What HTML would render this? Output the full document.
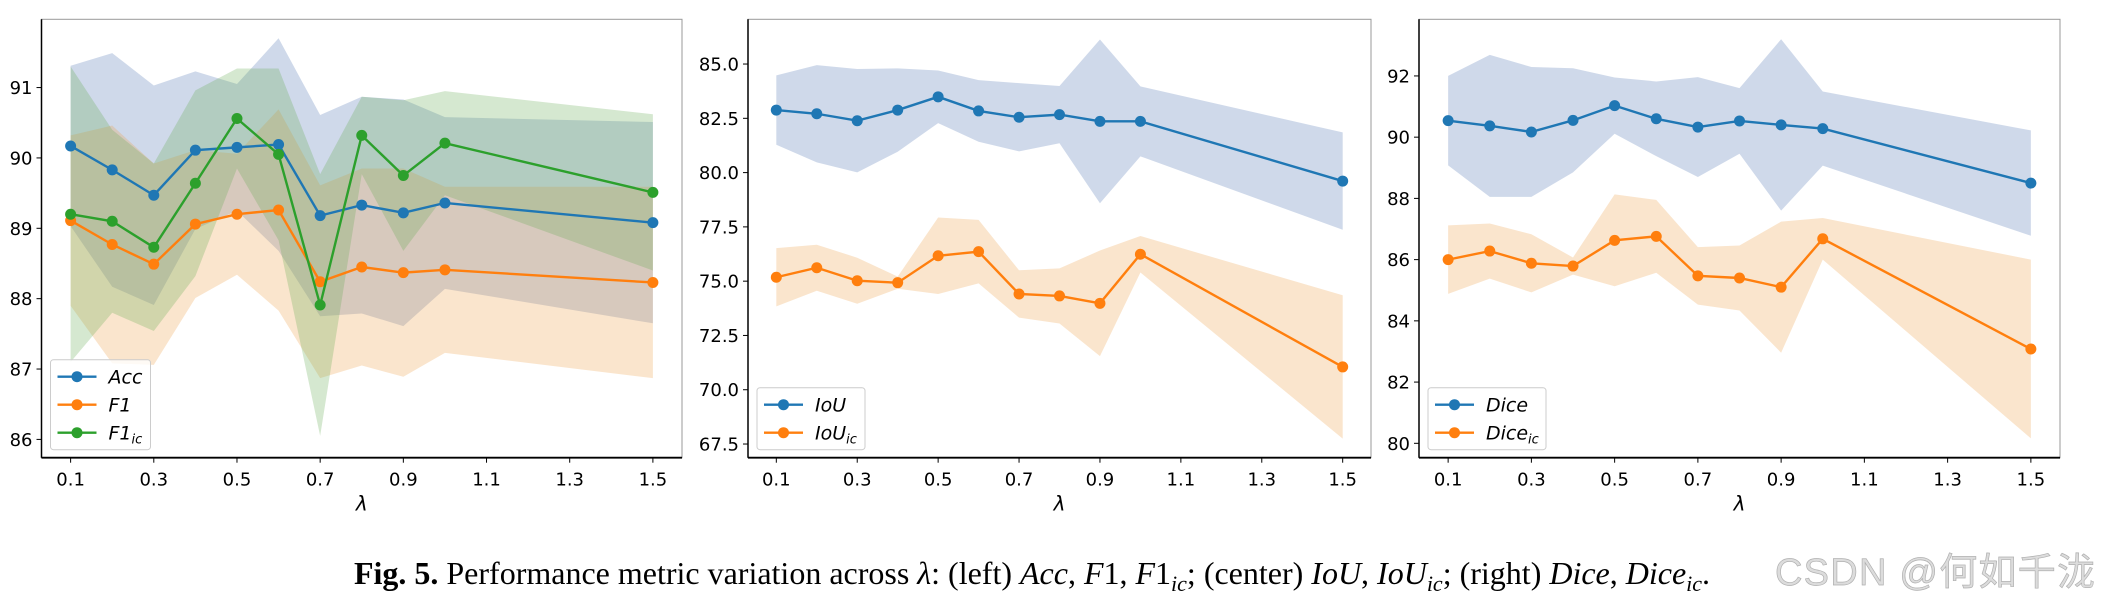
<!DOCTYPE html>
<html><head><meta charset="utf-8">
<style>
html,body{margin:0;padding:0;background:#fff;}
svg{display:block;}
text{font-family:"DejaVu Sans","Liberation Sans",sans-serif;}
</style></head>
<body>
<svg id="fig" width="2101" height="608" viewBox="0 0 2101 608" xmlns="http://www.w3.org/2000/svg">
<text x="1032" y="584" font-size="32" text-anchor="middle" fill="#000" style="font-family:'Liberation Serif',serif"><tspan font-weight="bold">Fig. 5.</tspan> Performance metric variation across <tspan font-style="italic">λ</tspan>: (left) <tspan font-style="italic">Acc</tspan>, <tspan font-style="italic">F</tspan>1, <tspan font-style="italic">F</tspan>1<tspan font-style="italic" font-size="22" dy="7">ic</tspan><tspan dy="-7">; (center) </tspan><tspan font-style="italic">IoU</tspan>, <tspan font-style="italic">IoU</tspan><tspan font-style="italic" font-size="22" dy="7">ic</tspan><tspan dy="-7">; (right) </tspan><tspan font-style="italic">Dice</tspan>, <tspan font-style="italic">Dice</tspan><tspan font-style="italic" font-size="22" dy="7">ic</tspan><tspan dy="-7">.</tspan></text>
<text x="1775" y="585" font-size="38" fill="#dcdcdc" stroke="#b0b0b0" stroke-width="0.7" textLength="320" style="font-family:'Liberation Sans','Noto Sans CJK SC',sans-serif">CSDN @何如千泷</text>
</svg>
<script>
const lambdas = [0.1,0.2,0.3,0.4,0.5,0.6,0.7,0.8,0.9,1.0,1.5];
const xTicks = [0.1,0.3,0.5,0.7,0.9,1.1,1.3,1.5];

const accMean = [90.17,89.83,89.47,90.11,90.15,90.19,89.18,89.33,89.22,89.36,89.08];
const accStd  = [1.14,1.66,1.56,1.12,0.90,1.51,1.43,1.54,1.61,1.22,1.43];
const f1Mean  = [89.11,88.77,88.49,89.06,89.20,89.26,88.24,88.45,88.37,88.41,88.23];
const f1Std   = [1.21,1.69,1.43,1.05,0.86,1.43,1.37,1.40,1.48,1.18,1.36];
const f1icMean= [89.20,89.10,88.73,89.64,90.56,90.05,87.91,90.32,89.75,90.21,89.51];
const f1icStd = [2.10,1.30,1.19,1.32,0.71,1.22,1.86,0.55,1.07,0.74,1.11];
const leftTicks = [86,87,88,89,90,91];

const iouMean  = [82.88,82.71,82.39,82.88,83.49,82.84,82.55,82.67,82.36,82.36,79.61];
const iouStd   = [1.60,2.24,2.38,1.92,1.21,1.42,1.57,1.32,3.77,1.61,2.24];
const iouicMean= [75.18,75.62,75.02,74.93,76.17,76.36,74.41,74.32,73.98,76.24,71.05];
const iouicStd = [1.34,1.06,1.06,0.28,1.76,1.46,1.09,1.27,2.43,0.84,3.30];
const centerTicks = [67.5,70.0,72.5,75.0,77.5,80.0,82.5,85.0];

const diceMean  = [90.54,90.37,90.17,90.55,91.03,90.60,90.33,90.53,90.40,90.28,88.50];
const diceStd   = [1.46,2.32,2.12,1.70,0.92,1.22,1.63,1.07,2.80,1.21,1.72];
const diceicMean= [86.00,86.28,85.88,85.79,86.63,86.76,85.47,85.40,85.10,86.68,83.08];
const diceicStd = [1.12,0.90,0.95,0.28,1.50,1.19,0.94,1.06,2.14,0.68,2.92];
const rightTicks = [80,82,84,86,88,90,92];

const NS = 'http://www.w3.org/2000/svg';
const svg = document.getElementById('fig');
function mk(tag, attrs, parent){
  const e = document.createElementNS(NS, tag);
  for (const k in attrs) e.setAttribute(k, attrs[k]);
  (parent||svg).appendChild(e);
  return e;
}
const C = {blue:'#1f77b4', orange:'#ff7f0e', green:'#2ca02c'};
const FILL = {blue:'rgba(76,114,176,0.27)', orange:'rgba(236,160,70,0.27)', green:'rgba(100,170,80,0.27)'};

function panel(p){
  const g = mk('g', {});
  
  
  const X = v => p.x0 + (v - 0.03) / 1.54 * (p.x1 - p.x0);
  const Y = v => p.y0 + (p.ymax - v) / (p.ymax - p.ymin) * (p.y1 - p.y0);
  p.series.forEach(s => {
    let d = '';
    lambdas.forEach((l,i) => { d += (i?'L':'M') + X(l) + ' ' + Y(s.mean[i] + s.std[i]); });
    for (let i = lambdas.length-1; i >= 0; i--) d += 'L' + X(lambdas[i]) + ' ' + Y(s.mean[i] - s.std[i]);
    const band = mk('path', {d: d + 'Z', fill: FILL[s.color], stroke: 'none'}, g);
    
    
  });
  p.series.forEach(s => {
    const pts = lambdas.map((l,i) => X(l) + ',' + Y(s.mean[i])).join(' ');
    const line = mk('polyline', {points: pts, fill: 'none', stroke: C[s.color], 'stroke-width': 2.4}, g);
    
    
    lambdas.forEach((l,i) => {
      const c = mk('circle', {cx: X(l), cy: Y(s.mean[i]), r: 5.5, fill: C[s.color]}, g);
      
      
    });
  });
  const fr = mk('rect', {x: p.x0, y: p.y0, width: p.x1 - p.x0, height: p.y1 - p.y0, fill: 'none', stroke: '#999', 'stroke-width': 1}, g);
  
  
  const ax = mk('line', {x1: p.x0, y1: p.y0, x2: p.x0, y2: p.y1, stroke: '#000', 'stroke-width': 1.5}, g);
  
  
  const bx = mk('line', {x1: p.x0, y1: p.y1, x2: p.x1, y2: p.y1, stroke: '#000', 'stroke-width': 1.8}, g);
  
  
  p.ticks.forEach(t => {
    const y = Y(t);
    mk('line', {x1: p.x0 - 5, y1: y, x2: p.x0, y2: y, stroke: '#000', 'stroke-width': 1}, g);
    const tx = mk('text', {x: p.x0 - 9, y: y + 6.5, 'font-size': 18, 'text-anchor': 'end', fill: '#000'}, g);
    tx.textContent = p.fmt(t);
    
    
  });
  xTicks.forEach(t => {
    const x = X(t);
    mk('line', {x1: x, y1: p.y1, x2: x, y2: p.y1 + 5, stroke: '#000', 'stroke-width': 1}, g);
    const tx = mk('text', {x: x, y: p.y1 + 28, 'font-size': 18, 'text-anchor': 'middle', fill: '#000'}, g);
    tx.textContent = t.toFixed(1);
    
    
  });
  const xl = mk('text', {x: (p.x0 + p.x1) / 2, y: p.y1 + 53, 'font-size': 20, 'font-style': 'italic', 'text-anchor': 'middle', fill: '#000'}, g);
  xl.textContent = 'λ';
  
  
  const n = p.series.length;
  const lg = mk('g', {}, g);
  
  
  const ly0 = p.y1 - 9 - n * 28 - 5;
  mk('rect', {x: p.x0 + 9, y: ly0, width: p.legW, height: n * 28 + 6, rx: 3, fill: 'rgba(255,255,255,0.8)', stroke: '#ccc', 'stroke-width': 1}, lg);
  p.series.forEach((s, i) => {
    const y = ly0 + 17 + i * 28;
    const e = mk('g', {}, lg);
    
    
    mk('line', {x1: p.x0 + 16, y1: y, x2: p.x0 + 55, y2: y, stroke: C[s.color], 'stroke-width': 2.4}, e);
    mk('circle', {cx: p.x0 + 35.5, cy: y, r: 5.5, fill: C[s.color]}, e);
    const t = mk('text', {x: p.x0 + 67, y: y + 7, 'font-size': 19, 'font-style': 'italic', fill: '#000'}, e);
    t.textContent = s.label;
    if (s.sub) {
      const ts = mk('tspan', {'font-size': 13, dy: 4}, t);
      ts.textContent = s.sub;
    }
  });
}

const fmtInt = v => String(v);
const fmt1 = v => v.toFixed(1);

panel({name:'left-panel', x0:41.5, x1:682, y0:19.3, y1:457.7, ymin:85.74, ymax:91.97, ticks:leftTicks, fmt:fmtInt, legW:100,
  series:[
    {key:'acc', label:'Acc', mean:accMean, std:accStd, color:'blue'},
    {key:'f1', label:'F1', mean:f1Mean, std:f1Std, color:'orange'},
    {key:'f1ic', label:'F1', sub:'ic', mean:f1icMean, std:f1icStd, color:'green'}]});
panel({name:'center-panel', x0:748, x1:1371, y0:19.3, y1:457.7, ymin:66.87, ymax:87.06, ticks:centerTicks, fmt:fmt1, legW:108,
  series:[
    {key:'iou', label:'IoU', mean:iouMean, std:iouStd, color:'blue'},
    {key:'iouic', label:'IoU', sub:'ic', mean:iouicMean, std:iouicStd, color:'orange'}]});
panel({name:'right-panel', x0:1419, x1:2060, y0:19.3, y1:457.7, ymin:79.53, ymax:93.85, ticks:rightTicks, fmt:fmtInt, legW:118,
  series:[
    {key:'dice', label:'Dice', mean:diceMean, std:diceStd, color:'blue'},
    {key:'diceic', label:'Dice', sub:'ic', mean:diceicMean, std:diceicStd, color:'orange'}]});
</script>
</body></html>
